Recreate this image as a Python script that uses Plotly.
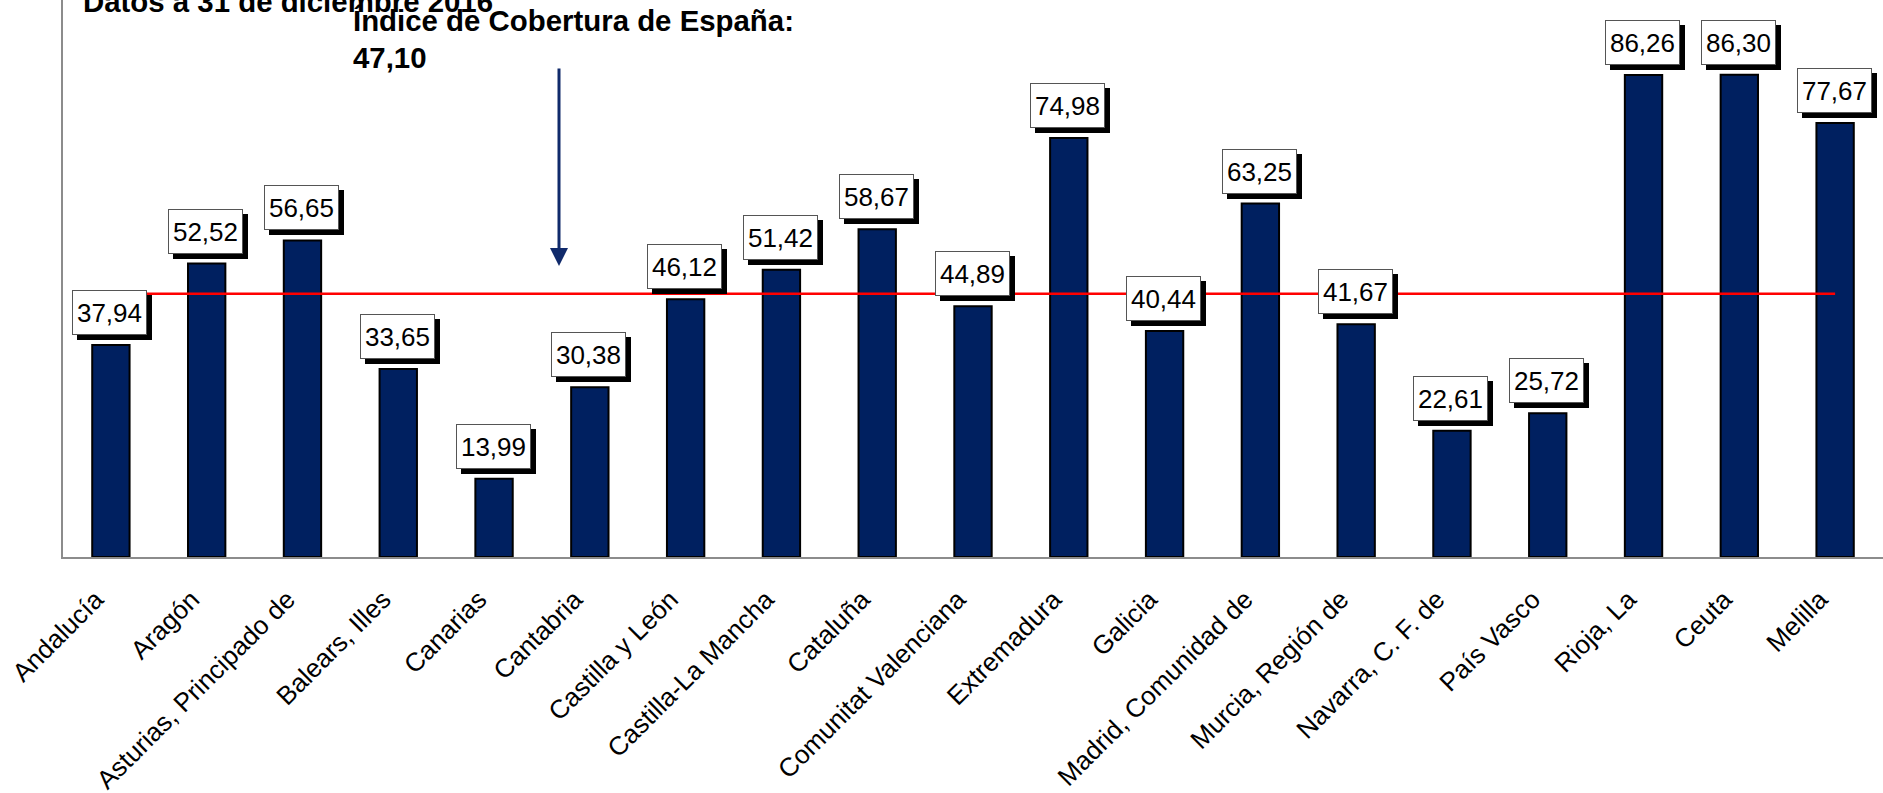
import plotly.graph_objects as go

categories = ["Andalucía", "Aragón", "Asturias, Principado de", "Balears, Illes", "Canarias",
              "Cantabria", "Castilla y León", "Castilla-La Mancha", "Cataluña",
              "Comunitat Valenciana", "Extremadura", "Galicia", "Madrid, Comunidad de",
              "Murcia, Región de", "Navarra, C. F. de", "País Vasco", "Rioja, La", "Ceuta", "Melilla"]
values = [37.94, 52.52, 56.65, 33.65, 13.99, 30.38, 46.12, 51.42, 58.67, 44.89,
          74.98, 40.44, 63.25, 41.67, 22.61, 25.72, 86.26, 86.30, 77.67]
spain_index = 47.10
title_text = "Datos a 31 de diciembre 2016"
index_label = "Índice de Cobertura de España:"
index_value_label = "47,10"

W, H = 1883, 793
L, T, PW, PH = 63, 0, 1820, 557
FONT = "Arial, Liberation Sans, sans-serif"


def xp(px):
    return (px - L) / PW


def yp(py):
    return (T + PH - py) / PH


def fmt(v):
    return f"{v:.2f}".replace(".", ",")


fig = go.Figure()
fig.add_trace(go.Bar(
    x=categories, y=values, width=0.39,
    marker=dict(color="#002060", line=dict(color="#000000", width=2)),
    hoverinfo="skip",
))
fig.add_trace(go.Scatter(
    x=categories, y=[spain_index] * len(categories), mode="lines",
    line=dict(color="#ff0000", width=2.5), hoverinfo="skip",
))

annotations = []
for c, v in zip(categories, values):
    # shadow
    annotations.append(dict(
        x=c, y=v, xref="x", yref="y", text=fmt(v), showarrow=False,
        xanchor="center", yanchor="bottom", xshift=4, yshift=5,
        width=73, height=43, borderpad=0, borderwidth=1,
        bgcolor="#000000", bordercolor="#000000",
        font=dict(family=FONT, size=26, color="#000000"),
    ))
for c, v in zip(categories, values):
    annotations.append(dict(
        x=c, y=v, xref="x", yref="y", text=fmt(v), showarrow=False,
        xanchor="center", yanchor="bottom", xshift=-1, yshift=10,
        width=73, height=43, borderpad=0, borderwidth=1,
        bgcolor="#ffffff", bordercolor="#555555",
        font=dict(family=FONT, size=26, color="#000000"),
    ))

annotations.append(dict(
    x=xp(81), y=yp(20), xref="paper", yref="paper", text=f"<b>{title_text}</b>",
    showarrow=False, xanchor="left", yanchor="bottom",
    font=dict(family=FONT, size=29.4, color="#000000"),
))
annotations.append(dict(
    x=xp(351), y=yp(39), xref="paper", yref="paper", text=f"<b>{index_label}</b>",
    showarrow=False, xanchor="left", yanchor="bottom",
    font=dict(family=FONT, size=29.4, color="#000000"),
))
annotations.append(dict(
    x=xp(351), y=yp(76), xref="paper", yref="paper", text=f"<b>{index_value_label}</b>",
    showarrow=False, xanchor="left", yanchor="bottom",
    font=dict(family=FONT, size=29.4, color="#000000"),
))
annotations.append(dict(
    x=xp(559), y=yp(266), xref="paper", yref="paper", text="",
    showarrow=True, ax=0, ay=-(266 - 67), axref="pixel", ayref="pixel",
    arrowhead=2, arrowsize=1.2, arrowwidth=3, arrowcolor="#102a6b", standoff=0,
))

fig.update_layout(
    width=W, height=H,
    margin=dict(l=L, r=W - L - PW, t=T, b=H - T - PH, pad=0, autoexpand=False),
    paper_bgcolor="#ffffff", plot_bgcolor="#ffffff",
    showlegend=False,
    annotations=annotations,
    xaxis=dict(
        type="category", showline=True, linecolor="#8c8c8c", linewidth=2,
        showgrid=False, zeroline=False, tickangle=-45, automargin=False,
        ticks="outside", ticklen=15, tickcolor="rgba(0,0,0,0)",
        ticklabelshift=-15,
        tickfont=dict(family=FONT, size=26, color="#000000"),
        fixedrange=True,
    ),
    yaxis=dict(
        range=[0, 99.68], showline=True, linecolor="#8c8c8c", linewidth=2,
        showgrid=False, zeroline=False, showticklabels=False, ticks="",
        automargin=False, fixedrange=True,
    ),
)

fig.write_html(
    "out.html",
    config={"displayModeBar": False},
    post_script="document.body.style.margin='0';document.body.style.overflow='hidden';",
)
